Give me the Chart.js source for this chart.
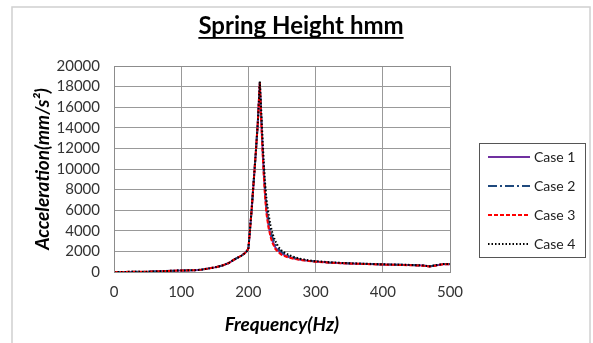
<!DOCTYPE html>
<html>
<head>
<meta charset="utf-8">
<script src="https://cdn.jsdelivr.net/npm/chart.js@4.4.1/dist/chart.umd.min.js"></script>
<style>
  body { margin: 0; background: #fff; }
  canvas { display: block; }
</style>
</head>
<body>
<canvas id="grafico" width="593" height="343"></canvas>
<script>
// ── Dados ────
const TITULO = 'Spring Height hmm';
const X_TICKS = [0, 100, 200, 300, 400, 500];
const Y_TICKS = [0, 2000, 4000, 6000, 8000, 10000, 12000, 14000, 16000, 18000, 20000];

const FREQ = [0, 50, 100, 120, 130, 140, 150, 160, 170, 180, 190, 195, 198, 200, 202, 205, 208, 211, 214, 217,
  219, 221, 223, 225, 227, 230, 233, 236, 240, 245, 250, 260, 270, 280, 290, 300,
  320, 340, 360, 380, 400, 420, 440, 460, 470, 480, 490, 500];

const CASE1 = [0, 30, 150, 170, 230, 330, 450, 600, 850, 1250, 1600, 1850, 2050, 2300, 3800, 6200, 8900, 11600, 14500, 18400,
  15000, 12000, 9500, 7400, 5900, 4500, 3600, 3000, 2400, 2000, 1750, 1450, 1280, 1170, 1080, 1010,
  920, 860, 810, 770, 730, 700, 670, 620, 540, 650, 760, 760];
const CASE2 = [0, 30, 150, 170, 230, 330, 450, 600, 850, 1250, 1600, 1850, 2050, 2300, 3800, 6200, 8900, 11600, 14500, 18450,
  15300, 12400, 10000, 8000, 6400, 5000, 4000, 3300, 2700, 2200, 1900, 1550, 1330, 1200, 1100, 1030,
  930, 870, 820, 780, 740, 710, 680, 630, 550, 660, 770, 770];
const CASE3 = [0, 30, 150, 170, 230, 330, 450, 600, 850, 1250, 1600, 1850, 2050, 2300, 3800, 6200, 8900, 11600, 14500, 18400,
  14800, 11800, 9200, 7100, 5600, 4300, 3400, 2800, 2250, 1900, 1650, 1400, 1250, 1150, 1060, 1000,
  910, 850, 800, 760, 720, 690, 660, 610, 530, 640, 750, 750];
const CASE4 = [0, 30, 150, 170, 230, 330, 450, 600, 850, 1250, 1600, 1850, 2050, 2300, 3800, 6200, 8900, 11600, 14500, 18500,
  15800, 13000, 10500, 8500, 7000, 5600, 4500, 3700, 3000, 2400, 2050, 1650, 1400, 1250, 1130, 1050,
  950, 880, 830, 790, 750, 720, 690, 640, 560, 670, 780, 780];

const NOMES = ['Case 1', 'Case 2', 'Case 3', 'Case 4'];
const SERIES = [CASE1, CASE2, CASE3, CASE4];
const CORES = ['#7030A0', '#1F497D', '#FF0000', '#000000'];
const TRACOS = [[], [9, 3, 2, 3], [4, 2], [1.5, 2]];

const FONTE = "Lato, 'Open Sans', sans-serif";

// ── Moldura, título e legenda ────
const decoracao = {
    id: 'decoracao',
    beforeDraw(chart) {
        const ctx = chart.ctx;
        ctx.save();
        ctx.fillStyle = '#fff';
        ctx.fillRect(0, 0, chart.width, chart.height);
        ctx.strokeStyle = '#d0d0d0';
        ctx.lineWidth = 1.5;
        ctx.strokeRect(12, 7, 578, 345);
        ctx.restore();
    },
    afterDraw(chart) {
        const ctx = chart.ctx;
        const a = chart.chartArea;
        ctx.save();
        // borda da área de plotagem
        ctx.strokeStyle = '#8c8c8c';
        ctx.lineWidth = 1;
        ctx.strokeRect(Math.round(a.left) + 0.5, Math.round(a.top) + 0.5, Math.round(a.right - a.left), Math.round(a.bottom - a.top));

        // título sublinhado
        ctx.font = `bold 24px ${FONTE}`;
        ctx.fillStyle = '#000';
        ctx.textAlign = 'center';
        ctx.textBaseline = 'alphabetic';
        const cx = 301, by = 34;
        ctx.fillText(TITULO, cx, by);
        const w = ctx.measureText(TITULO).width;
        ctx.fillRect(cx - w / 2, by + 3, w, 1.8);

        // legenda
        const lx = 479, ly = 143, lw = 106, lh = 114;
        ctx.strokeStyle = '#555';
        ctx.lineWidth = 1;
        ctx.strokeRect(lx + 0.5, ly + 0.5, lw, lh);
        ctx.font = `14px ${FONTE}`;
        ctx.textAlign = 'left';
        ctx.textBaseline = 'middle';
        NOMES.forEach((nome, i) => {
            const y = 157 + i * 29;
            ctx.beginPath();
            ctx.setLineDash(TRACOS[i]);
            ctx.strokeStyle = CORES[i];
            ctx.lineWidth = 2;
            ctx.moveTo(488, y);
            ctx.lineTo(530, y);
            ctx.stroke();
            ctx.setLineDash([]);
            ctx.fillStyle = '#222';
            ctx.fillText(nome, 534, y);
        });
        ctx.restore();
    }
};

new Chart(document.getElementById('grafico'), {
    type: 'line',
    data: {
        datasets: SERIES.map((s, i) => ({
            label: NOMES[i],
            data: FREQ.map((f, j) => ({ x: f, y: s[j] })),
            borderColor: CORES[i],
            borderDash: TRACOS[i],
            borderWidth: 2,
            pointRadius: 0,
            tension: 0,
            fill: false,
            order: SERIES.length - 1 - i,   // Case 4 por cima
        }))
    },
    options: {
        responsive: false,
        animation: false,
        events: [],
        layout: { padding: { top: 66, right: 143, bottom: 0, left: 0 } },
        plugins: { legend: { display: false }, title: { display: false }, tooltip: { enabled: false } },
        scales: {
            x: {
                type: 'linear',
                min: 0, max: 500,
                afterBuildTicks(s) { s.ticks = X_TICKS.map(v => ({ value: v })); },
                afterFit(s) { s.height = 343 - 272; },
                grid: { color: '#999', drawTicks: false },
                border: { display: false },
                ticks: { autoSkip: false, maxRotation: 0, padding: 11, color: '#333', font: { family: FONTE, size: 15 }, callback: v => String(v) },
                title: {
                    display: true, text: 'Frequency(Hz)', color: '#000',
                    font: { family: FONTE, size: 19, weight: 'bold', style: 'italic' },
                    padding: { top: 0, bottom: 7 }
                }
            },
            y: {
                min: 0, max: 20000,
                afterBuildTicks(s) { s.ticks = Y_TICKS.map(v => ({ value: v })); },
                afterFit(s) { s.width = 114; },
                grid: { color: '#999', drawTicks: false },
                border: { display: false },
                ticks: { autoSkip: false, padding: 14, color: '#333', font: { family: FONTE, size: 15 }, callback: v => String(v) },
                title: {
                    display: true, text: 'Acceleration(mm/s²)', color: '#000',
                    font: { family: FONTE, size: 19, weight: 'bold', style: 'italic' },
                    padding: { top: 31, bottom: 0 }
                }
            }
        }
    },
    plugins: [decoracao]
});
</script>
</body>
</html>
